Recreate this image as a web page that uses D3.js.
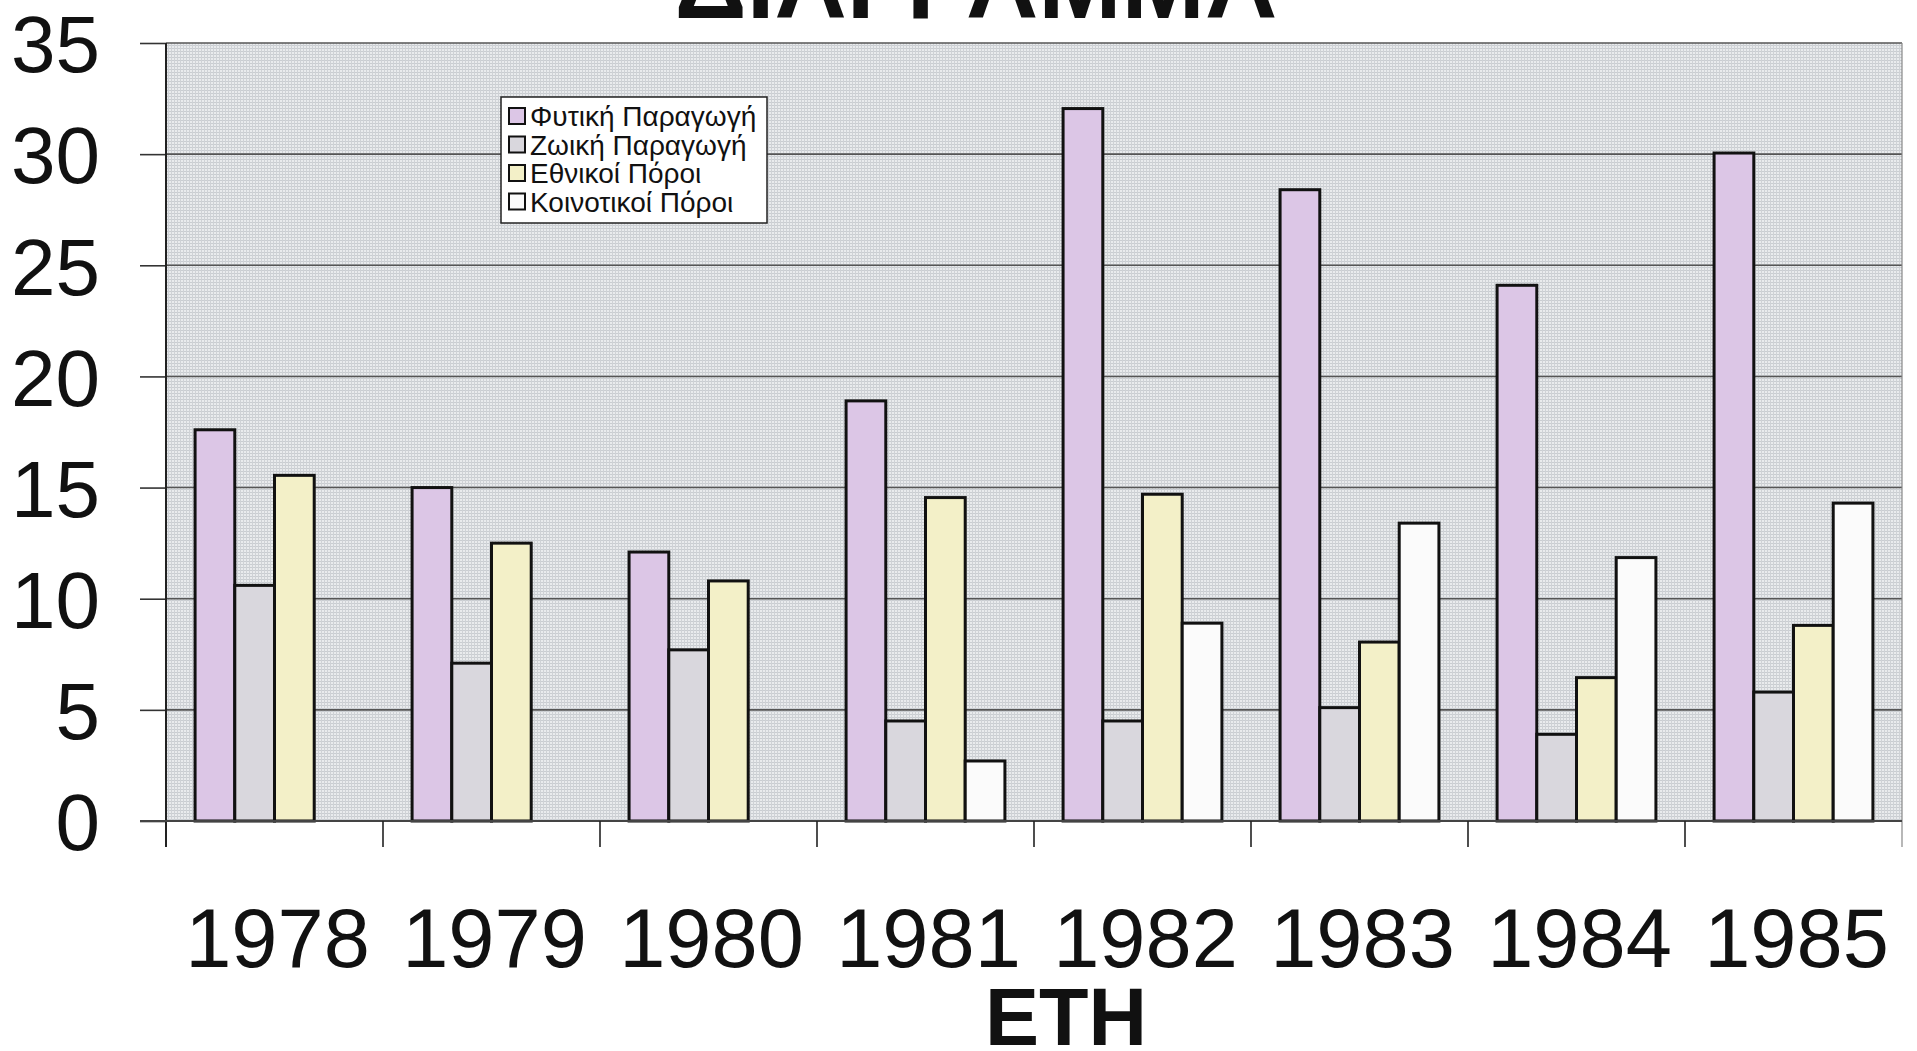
<!DOCTYPE html>
<html>
<head>
<meta charset="utf-8">
<script src="https://cdnjs.cloudflare.com/ajax/libs/d3/7.8.5/d3.min.js"></script>
<style>
html,body{margin:0;padding:0;background:#fff;}
svg{display:block;}
text{font-family:"Liberation Sans",Arial,sans-serif;fill:#111;}
</style>
</head>
<body>
<svg id="chart" width="1917" height="1051"></svg>
<script>
const years = ["1978","1979","1980","1981","1982","1983","1984","1985"];
const seriesNames = ["Φυτική Παραγωγή","Ζωική Παραγωγή","Εθνικοί Πόροι","Κοινοτικοί Πόροι"];
const fytiki   = [17.6, 15.0, 12.1, 18.9, 32.05, 28.4, 24.1, 30.05];
const zoiki    = [10.6, 7.1, 7.7, 4.5, 4.5, 5.1, 3.9, 5.8];
const ethnikoi = [15.55, 12.5, 10.8, 14.55, 14.7, 8.05, 6.45, 8.8];
const koinotikoi = [0, 0, 0, 2.7, 8.9, 13.4, 11.85, 14.3];
const yTicks = [0,5,10,15,20,25,30,35];
const seriesColors = ["#dcc6e6","#d9d7dd","#f3f0c8","#fbfbfb"];
const titleText = "ΔΙΑΓΡΑΜΜΑ";
const xTitle = "ΕΤΗ";

const seriesValues = [fytiki, zoiki, ethnikoi, koinotikoi];

const svg = d3.select("#chart");
const L = 166, R = 1902, T = 43, B = 821;

const defs = svg.append("defs");
const pat = defs.append("pattern").attr("id","dots").attr("patternUnits","userSpaceOnUse")
  .attr("width",3).attr("height",3);
pat.append("rect").attr("width",3).attr("height",3).attr("fill","#e9ebed");
pat.append("rect").attr("width",3).attr("height",1).attr("fill","#c9cdd1");
pat.append("rect").attr("width",1).attr("height",3).attr("fill","#cfd2d6");

const x0 = d3.scaleBand().domain(years).range([L,R]).padding(0);
const bw = x0.bandwidth();
const x1 = d3.scaleBand().domain(seriesNames).range([bw*0.134, bw*0.866]).padding(0);
const y = d3.scaleLinear().domain([0,35]).range([B,T]);

// title
svg.append("text").attr("x",976).attr("y",18).attr("text-anchor","middle")
  .attr("font-size",100).attr("font-weight","bold").text(titleText);

// background
svg.append("rect").attr("x",L).attr("y",T).attr("width",R-L).attr("height",B-T).attr("fill","url(#dots)");

// gridlines
svg.append("g").selectAll("line").data(yTicks.filter(d=>d>0)).join("line")
  .attr("x1",L).attr("x2",R).attr("y1",d=>y(d)).attr("y2",d=>y(d))
  .attr("stroke","#555").attr("stroke-width",1.6);
// right border
svg.append("line").attr("x1",R).attr("x2",R).attr("y1",T).attr("y2",B+26)
  .attr("stroke","#888").attr("stroke-width",1.2);

// bars
const groups = svg.append("g").selectAll("g").data(years).join("g")
  .attr("transform",d=>`translate(${x0(d)},0)`);
groups.selectAll("rect").data((d,i)=>seriesNames.map((s,j)=>({s, j, v: seriesValues[j][i]})).filter(e=>e.v>0))
  .join("rect")
  .attr("x",e=>x1(e.s)).attr("width",x1.bandwidth())
  .attr("y",e=>y(e.v)).attr("height",e=>B-y(e.v))
  .attr("fill",e=>seriesColors[e.j]).attr("stroke","#111").attr("stroke-width",3);

// y axis
const yAxis = d3.axisLeft(y).tickValues(yTicks).tickSize(26).tickPadding(40).tickFormat(d3.format("d"));
const ya = svg.append("g").attr("transform",`translate(${L},0)`).call(yAxis);
ya.select(".domain").remove();
ya.selectAll(".tick line").attr("stroke","#333").attr("stroke-width",1.6);
ya.selectAll(".tick text").attr("font-size",80).attr("font-family","Liberation Sans, Arial, sans-serif")
  .attr("fill","#111").attr("dy","0.36em");
svg.append("line").attr("x1",L).attr("x2",L).attr("y1",T).attr("y2",B+26).attr("stroke","#222").attr("stroke-width",2);
svg.append("line").attr("x1",L-26).attr("x2",R).attr("y1",B).attr("y2",B).attr("stroke","#444").attr("stroke-width",2);

// x category ticks
svg.append("g").selectAll("line").data(years.slice(1)).join("line")
  .attr("x1",d=>x0(d)).attr("x2",d=>x0(d)).attr("y1",B).attr("y2",B+26)
  .attr("stroke","#222").attr("stroke-width",1.6);

// x labels
svg.append("g").selectAll("text").data(years).join("text")
  .attr("x",d=>x0(d)+bw/2+3).attr("y",967).attr("text-anchor","middle")
  .attr("font-size",83).text(d=>d);

svg.append("text").attr("x",1066).attr("y",1045).attr("text-anchor","middle")
  .attr("font-size",81).attr("font-weight","bold").text(xTitle);

// legend
const lg = svg.append("g");
lg.append("rect").attr("x",501).attr("y",97).attr("width",266).attr("height",126)
  .attr("fill","#fff").attr("stroke","#222").attr("stroke-width",1.5);
const rows = lg.selectAll("g").data(seriesNames).join("g")
  .attr("transform",(d,i)=>`translate(0,${116+i*28.5})`);
rows.append("rect").attr("x",509).attr("y",-8).attr("width",16).attr("height",16)
  .attr("fill",(d,i)=>seriesColors[i]).attr("stroke","#111").attr("stroke-width",2);
rows.append("text").attr("x",530).attr("y",0).attr("dy","0.36em").attr("font-size",28).text(d=>d);
</script>
</body>
</html>
